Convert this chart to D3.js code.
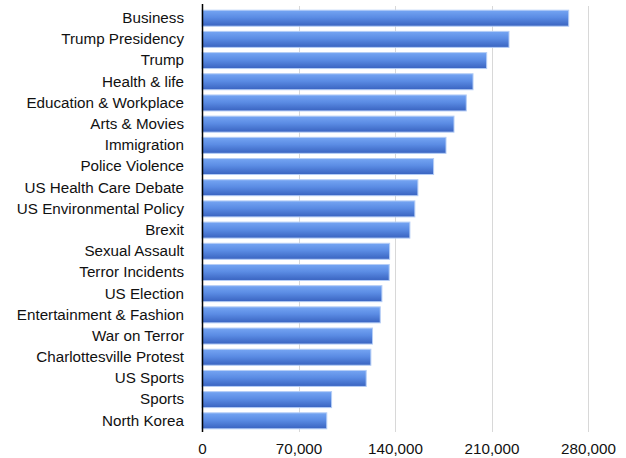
<!DOCTYPE html>
<html>
<head>
<meta charset="utf-8">
<script src="https://cdn.jsdelivr.net/npm/d3@7"></script>
<style>
    body { margin: 0; background: #fff; }
    svg text { font-family: "Liberation Sans", Arial, Helvetica, sans-serif; fill: #111; }
</style>
</head>
<body>
<svg id="chart" width="626" height="458"></svg>
<script>
const categories = [
    "Business", "Trump Presidency", "Trump", "Health & life", "Education & Workplace",
    "Arts & Movies", "Immigration", "Police Violence", "US Health Care Debate",
    "US Environmental Policy", "Brexit", "Sexual Assault", "Terror Incidents",
    "US Election", "Entertainment & Fashion", "War on Terror", "Charlottesville Protest",
    "US Sports", "Sports", "North Korea"
];
const counts = [
    266000, 222700, 206500, 196600, 191700,
    182800, 177000, 168000, 156600,
    154400, 150800, 136100, 135800,
    130500, 129300, 123700, 122500,
    119100, 94000, 90500
];
const tickValues = [0, 70000, 140000, 210000, 280000];

const ctx = {
    LEFT: 202,
    RIGHT: 588,
    TOP: 5,
    BOTTOM: 434,
    FONT_SIZE: "15.2px",
};

const svg = d3.select('#chart');

const data = categories.map((c, i) => ({ name: c, value: counts[i] }));

const x = d3.scaleLinear()
    .domain([0, 280000])
    .range([ctx.LEFT, ctx.RIGHT]);

const y = d3.scaleBand()
    .domain(categories)
    .range([ctx.TOP, ctx.BOTTOM])
    .padding(0.245);

// bar gradient
const defs = svg.append("defs");
const grad = defs.append("linearGradient")
    .attr("id", "barGrad")
    .attr("x1", 0).attr("y1", 0)
    .attr("x2", 0).attr("y2", 1);
grad.append("stop").attr("offset", "0%").attr("stop-color", "#75a5f3");
grad.append("stop").attr("offset", "45%").attr("stop-color", "#5b8ce4");
grad.append("stop").attr("offset", "100%").attr("stop-color", "#3963c0");

// gridlines (skip 0, the axis line covers it)
svg.append("g")
    .selectAll("line")
    .data(tickValues.filter(d => d > 0))
    .enter()
    .append("line")
    .attr("x1", d => Math.round(x(d)) + 0.5)
    .attr("x2", d => Math.round(x(d)) + 0.5)
    .attr("y1", 6)
    .attr("y2", 432)
    .style("stroke", "#d8d8d8")
    .style("stroke-width", 1);

// bars
svg.append("g")
    .selectAll("rect")
    .data(data)
    .enter()
    .append("rect")
    .attr("x", x(0))
    .attr("y", d => y(d.name))
    .attr("width", d => x(d.value) - x(0))
    .attr("height", y.bandwidth())
    .style("fill", "url(#barGrad)")
    .style("stroke", "#b4cdf6")
    .style("stroke-width", 1);

// axis line
svg.append("line")
    .attr("x1", ctx.LEFT + 0.5)
    .attr("x2", ctx.LEFT + 0.5)
    .attr("y1", 4)
    .attr("y2", 432)
    .style("stroke", "#000")
    .style("stroke-width", 1.5);

// category labels
const yAxis = svg.append("g")
    .attr("transform", `translate(${ctx.LEFT},0)`)
    .call(d3.axisLeft(y).tickSize(0).tickPadding(18));
yAxis.select(".domain").remove();
yAxis.selectAll("text")
    .style("font-size", ctx.FONT_SIZE)
    .style("fill", "#111");

// value labels
const xAxis = svg.append("g")
    .attr("transform", `translate(0,${ctx.BOTTOM})`)
    .call(d3.axisBottom(x)
        .tickValues(tickValues)
        .tickSize(0)
        .tickPadding(9)
        .tickFormat(d3.format(",")));
xAxis.select(".domain").remove();
xAxis.selectAll("text")
    .style("font-size", ctx.FONT_SIZE)
    .style("fill", "#111");
</script>
</body>
</html>
